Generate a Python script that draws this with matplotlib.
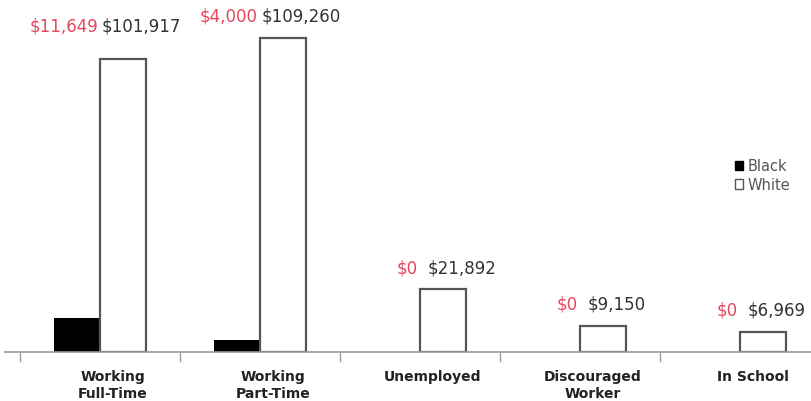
import numpy as np
import matplotlib
matplotlib.use("Agg")
import matplotlib.pyplot as plt
from matplotlib.patches import Patch

plt.rcParams['font.family'] = ['Liberation Sans Narrow', 'DejaVu Sans']

categories = ["Working\nFull-Time", "Working\nPart-Time", "Unemployed", "Discouraged\nWorker", "In School"]
black_vals = [11649, 4000, 0, 0, 0]
white_vals = [101917, 109260, 21892, 9150, 6969]

RED = "#e5475c"
TEXT = "#333333"
GRAY = "#9a9a9a"

fig = plt.figure(figsize=(8.11, 4.02), dpi=100)
ax = fig.add_axes([0.006, 0.122, 0.994, 0.878])

x = np.arange(len(categories))
w = 0.29
ax.bar(x - w / 2, black_vals, width=w, color="black", edgecolor="black", linewidth=0)
ax.bar(x + w / 2, white_vals, width=w, color="white", edgecolor="#555555", linewidth=1.6)

ax.set_xlim(-0.594, 4.444)
ax.set_ylim(0, 122800)

# value labels: red (black group) right of centre line, dark (white group) left
for i in range(len(categories)):
    top = white_vals[i]
    dy = 34 if i == 0 else 22
    gap = 2 if black_vals[i] else 8
    ax.annotate(f"${black_vals[i]:,}", (x[i], top), xytext=(-2, dy),
                textcoords="offset pixels", ha="right", va="center",
                color=RED, fontsize=12)
    ax.annotate(f"${white_vals[i]:,}", (x[i], top), xytext=(gap, dy),
                textcoords="offset pixels", ha="left", va="center",
                color=TEXT, fontsize=12)

# category labels under the axis
for i, lab in enumerate(categories):
    ax.text(x[i] + 0.08, -0.048, lab, transform=ax.get_xaxis_transform(),
            ha="center", va="top", fontsize=10, fontweight="bold",
            color="#222222", linespacing=1.3)

ax.set_xticks(x - 0.5)
ax.set_xticklabels([])
ax.tick_params(axis="x", direction="out", length=7, color=GRAY, width=1)
ax.set_yticks([])
for s in ["left", "right", "top"]:
    ax.spines[s].set_visible(False)
ax.spines["bottom"].set_color(GRAY)
ax.spines["bottom"].set_linewidth(1.2)

handles = [Patch(facecolor="black", edgecolor="black", label="Black"),
           Patch(facecolor="white", edgecolor="#555555", label="White")]
leg = ax.legend(handles=handles, loc="upper left", bbox_to_anchor=(0.898, 0.565),
                frameon=False, handlelength=0.6, handleheight=0.6,
                handletextpad=0.3, labelspacing=0.25, fontsize=10.5,
                borderaxespad=0)
for t in leg.get_texts():
    t.set_color("#555555")

fig.savefig("out.png", dpi=100)
